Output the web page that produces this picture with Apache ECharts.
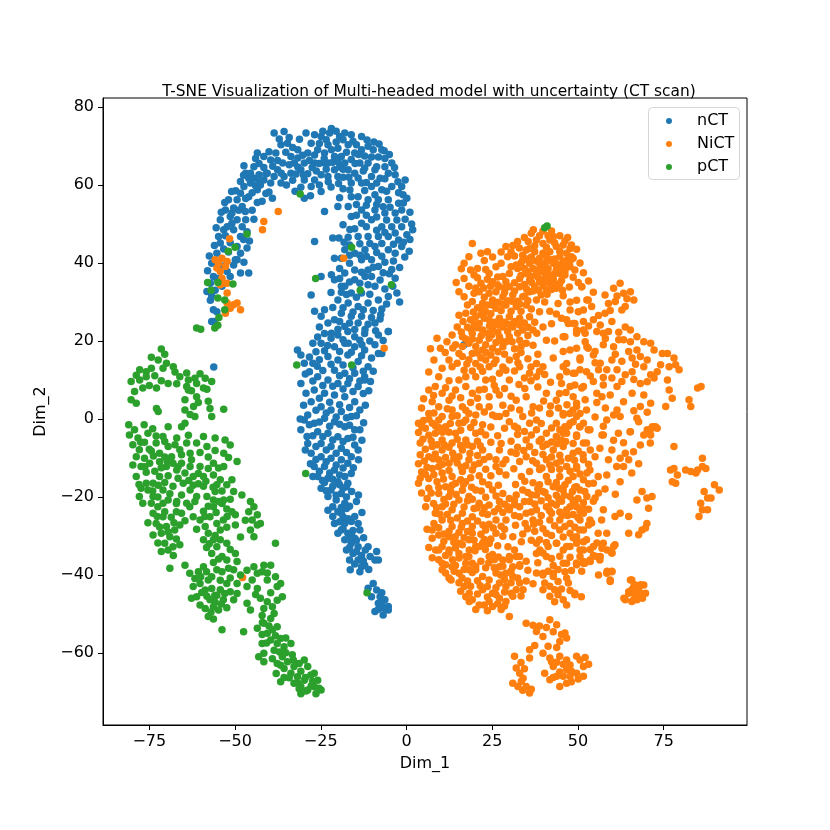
<!DOCTYPE html>
<html>
<head>
<meta charset="utf-8">
<script src="https://cdn.jsdelivr.net/npm/echarts@6/dist/echarts.min.js"></script>
<style>
html, body { margin: 0; padding: 0; background: #fff; }
#chart { width: 830px; height: 830px; }
</style>
</head>
<body>
<div id="chart"></div>
<script>
// 类别与颜色
const seriesNames = ['nCT', 'NiCT', 'pCT'];
const seriesColors = ['#1f77b4', '#ff7f0e', '#2ca02c'];
const xTicks = [-75, -50, -25, 0, 25, 50, 75];
const yTicks = [-60, -40, -20, 0, 20, 40, 60, 80];

// nCT：弧形上部
const nctArc = [
    [-56.8,25],[-58.2,32.7],[-57.2,34.8],[-56.3,36.5],[-56.8,39.9],[-55.3,42.5],[-54.3,45.1],[-54.8,46.8],[-53.3,48.5],[-54.3,51.1],
    [-52.3,49.3],[-51.4,51.9],[-52.8,53.6],[-50.4,54.1],[-49.4,56.2],[-51.9,56.2],[-48.4,57.9],[-47.4,59.6],[-45.5,60.5],[-44.5,61.7],
    [-43,62.6],[-41.6,61.3],[-43.5,58.8],[-46,57],[-47.9,54.5],[-49.4,51.1],[-46.9,51.1],[-50.4,48.5],[-48.4,46.8],[-49.4,44.2],
    [-46.5,43.8],[-49.9,40.8],[-48.4,37.4],[-46,37.4],[-52.3,37.8],[-53.8,34],[-51.4,36.5],[-49.4,40.8],[-56,25],[-56.2,13.3],
    [-48.4,60.9],[-46.9,63],[-44.5,64.7],[-43.5,68.2],[-40.6,63],[-39.6,66.4],[-38.1,68.2],[-38.6,73.3],[-35.7,73.7],[-36.6,70.3],
    [-34.7,70.7],[-33.7,67.3],[-31.7,69],[-32.7,65.6],[-30.8,63.9],[-29.8,65.6],[-28.8,68.2],[-27.8,70.7],[-29.3,73.3],[-26.8,72.9],
    [-24.9,72.4],[-25.9,69],[-23.9,68.2],[-22.9,70.3],[-21.9,69],[-21,67.3],[-20,69.4],[-19.5,72.4],[-21.9,74.5],[-18,73.3],
    [-16.1,72.9],[-17,70.3],[-19,67.3],[-18,65.6],[-15.1,68.2],[-13.1,72.4],[-13.1,69],[-11.2,69.9],[-9.7,69],[-7.2,69],
    [-13.6,65.6],[-11.2,65.6],[-9.2,63.9],[-6.3,64.7],[-4.3,65.6],[-5.3,63],[-7.7,61.7],[-10.2,62.2],[-15.1,63],[-17,63.9],
    [-21,63.9],[-22.9,62.2],[-24.9,62.6],[-26.8,61.3],[-27.8,59.6],[-29.8,61.3],[-33.7,63],[-35.7,62.2],[-37.6,63.9],[-39.6,60.5],
    [-36.6,60.5],[-41.6,67.3],[-31.7,66.9],[-23.9,65.6],[-26.8,65.6],[-22.9,65.6],[-20,62.2],[-24.9,58.3],
    [-45.5,63],[-43,65.5],[-41.6,64.5],[-40.1,68.5],[-37.6,66.3],[-37.1,71.8],[-34.2,72.2],[-33.2,69.6],[-35.2,68.4],[-31.2,71.7],
    [-30.3,67.6],[-28.3,66.3],[-26.8,67.7],[-25.4,70.6],[-24.4,73.8],[-23.4,71.6],[-22.4,73.3],[-20.5,71],[-20.5,73.8],[-18.5,71.6],
    [-17.5,68.4],[-16.1,66.5],[-14.6,70.3],[-15.6,71.2],[-12.2,67.4],[-10.2,67.2],[-8.2,67.2],[-6.3,66.8],[-8.7,64.7],[-12.6,63.6],
    [-14.1,61.8],[-11.7,60.6],[-8.7,60.5],[-6.3,61.6],[-3.3,62.6],[-2.3,58],[-5.8,58.4],[-9.2,57.5],[-12.2,58.6],[-16.1,60.5],
    [-18.5,62],[-19.5,64.6],[-23.4,64],[-26.3,63.6],[-28.8,62.9],[-31.7,64.6],[-34.2,65.2],[-36.1,65.6],[-38.6,62.2],[-33.2,61.2],
    [-42.6,60],[-44,59.8],[-45,58],[-46.9,56.5],[-48.9,53.5],[-50.9,52.8],[-47.9,49.3],[-50.9,50.2],[-52.8,47],[-51.4,45.2],
    [-53.3,43.6],[-51.9,42.8],[-50.4,39.5],[-48.4,42.5],[-47.4,40.2],[-53.3,39.2],[-55.3,36],[-55.8,33],[-57.2,30.4],[-56.3,28],
    [-55.3,27.5],[-44,66.8],[-46,61.7],[-47.4,64.9],[-25.4,60],[-22,59.5],[-30.8,59.4],[-18.5,59],[-12.2,64.3],[-40.1,58.2],
    [-42.1,55.8],[-39.1,56.6],
    [-45,53.5],[-43.5,55.5],[-41,57.8],[-44.5,51.2],[-46.5,48],[-45.8,45.6],[-47.5,46],[-47,53.2],[-49.8,58.5],[-51,58.3],
    [-53,55.5],[-54,53],[-55.5,49],[-56,44.5],[-57.5,41.8],[-58,38],[-56.8,31.5],[-47.5,62.5],[-43,60.8],[-41,62.8],
    [-39,64.8],[-36.5,63],[-35,60],[-32.2,62.8],[-30,62.5],[-27.5,64.5],[-25.5,65.5],[-24,66.8],[-21.5,65.8],[-20,66],
    [-18.5,64],[-16.8,62],[-15,65.5],[-14,67.8],[-11.5,71.5],[-9.5,71],[-8,70.5],[-6.5,68.8],[-5,67.8],[-3.5,64.5],
    [-29.8,56.6],[-32.5,58.4],[-28,57.2],[-19.5,56.7],[-16.5,58.7],[-22.8,60.8],[-19.8,60.4]
];

// nCT：右侧下行段
const nctRight = [
    [-13.1,60.5],[-10.2,59.6],[-7.2,58.8],[-4.3,59.6],[-1.4,59.6],[-0.4,61.3],[0.1,56.6],[-2.3,55.3],[-5.3,56.2],[-8.2,56.2],
    [-11.2,56.2],[-14.1,57],[-16.1,57],[-13.1,53.6],[-9.2,53.6],[-6.3,52.8],[-3.3,52.8],[-1.4,53.6],[-16.1,51.9],[-13.1,50.2],
    [-10.2,51.1],[-7.2,49.3],[-4.3,49.3],[-1.4,49.3],[0.1,47.2],[-2.3,45.9],[-5.3,46.8],[-8.2,46.8],[-11.2,46.8],[-14.1,46.8],
    [-9.2,44.2],[-12.1,43.4],[-15.1,42.5],[-13.1,40.8],[-10.2,40.8],[-7.2,41.7],[-5.3,43.4],[-3.3,42.5],[-1.4,44.2],[-8.2,39.1],
    [-11.2,38.2],[-15.1,38.2],[-18,37.4],[-18,34],[-15.1,35.7],[-12.1,36.5],[-10.2,36.5],[-9.2,34],[-13.1,32.3],[-16.1,32.3],
    [-19,34],[-21,35.7],[-20,30.5],[-17,29.7],[-14.1,28.8],[-11.2,29.7],[-8.2,30.5],[-5.3,31.4],[-13.1,26.3],[-16.1,26.3],
    [-19,27.1],[-21,25.4],[-22.9,24.6],[-24.9,26.3],[-21.9,22],[-18,23.7],[-15.1,22.9],[-12.1,22.9],[-9.2,24.6],[-5.3,22.4],
    [-2.8,32.3],[-18,43.4],[-21.5,46.4],[-26.8,45.5],[-23.9,53.2],[-20,54.5],[-17,54.5],[-27.8,31.8],[-24.9,36.5],[-21.9,37],
    [-26.8,27.6],[-21,41.2],[-19,41.2],[1.5,50],[1,46],[16.8,19],
    [-14.6,55],[-11.7,54.8],[-8.7,55],[-6.8,54.4],[-4.8,54.3],[-0.9,55.4],[-2.8,51],[-5.8,51],[-8.7,51.8],[-11.7,52.2],
    [-14.6,52.2],[-15.1,48.8],[-11.7,49.3],[-8.7,48.4],[-6.3,47.8],[-3.3,47.7],[-0.4,51.2],[-0.9,45.3],[-3.8,44.8],[-7.2,45],
    [-10.7,45],[-13.6,44.9],[-16.6,44.6],[-17,46.6],[-16.6,42],[-13.6,42],[-11.7,41.7],[-8.7,42.7],[-6.3,40.2],[-3.8,40.5],
    [-9.7,38.9],[-13.1,37.6],[-16.6,39.9],[-19.5,38.6],[-19.5,36],[-16.6,35.1],[-13.6,34.8],[-11.2,34.4],[-7.7,35.6],[-6.3,33.3],
    [-10.7,32],[-14.6,31.2],[-17.5,31.9],[-19,32.5],[-22,32.4],[-21.5,28.6],[-18.5,28.5],[-15.6,27.4],[-12.6,28],[-9.7,27.8],
    [-7.2,28.2],[-10.2,26],[-7.7,25.6],[-11.2,24.3],[-14.1,24.6],[-16.6,24.6],[-19.5,25],[-23.9,28],[-25.4,23.6],[-20,23],
    [-3.3,36.1],[-4.3,38.3],
    [-2.5,60.8],[-1,57.5],[1,53],[1.8,48.5],[0.8,43],[-0.5,41.5],[-2,38.8],[-5,37.2],[-6.8,37.5],[-4,34],
    [-2,30],[-5.8,29.5],[-7.5,26.8],[-9,22.6],[-16.5,48.6],[-18.5,49.8],[-19.7,46.4],[-18.2,45.3]
];

// nCT：下部主干
const nctStem = [
    [-23.9,21.9],[-20,21.5],[-17.1,22.4],[-15.1,21.1],[-12.2,21.9],[-8.2,21.5],[-5.3,22.4],[-24.9,19.4],[-21,18.5],[-18,19.4],
    [-15.1,18.5],[-12.2,17.7],[-9.2,19],[-7.2,16.8],[-27.3,19.4],[-30.8,16.4],[-31.8,17.7],[-29.8,14.3],[-27.3,14.3],[-22.9,16],
    [-20,15.1],[-17.1,16.4],[-14.1,14.7],[-11.2,13.4],[-8.2,16.8],[-21,12.5],[-18,11.7],[-15.1,11.7],[-12.2,10.8],
    [-25.9,10.8],[-22.9,10],[-20,9.1],[-17.1,9.1],[-14.1,8.3],[-12.2,10],[-30.8,9.1],[-26.9,7.4],[-23.9,6.6],[-21,6.1],
    [-18,5.7],[-15.1,4.4],[-13.6,2.3],[-27.8,4.4],[-24.9,3.1],[-22,2.3],[-19,1.9],[-16.1,0.6],[-28.8,1],[-29.8,-0.3],
    [-26.9,-1.1],[-23.9,0.2],[-21,-0.7],[-18,-2],[-15.1,-2.8],[-13.6,-2.8],[-30.8,-2.8],[-25.9,-3.3],[-22.9,-3.7],[-20,-4.6],
    [-17.1,-5],[-28.8,-6.3],[-24.9,-6.3],[-22,-7.1],[-19,-7.5],[-15.1,-6.7],[-14.1,-8],[-27.8,-8.8],[-24.9,-9.7],[-22,-10.1],
    [-19,-10.5],[-17.1,-11.4],[-26.9,-12.2],[-23.9,-12.2],[-21,-13.1],[-18,-14.8],[-25.9,-14.8],[-22.9,-15.2],[-20,-16.1],[-17.1,-16.5],
    [-27.3,-14.8],[-24.9,-17.8],[-22,-18.2],[-19,-19.1],[-17.5,-17.4],[-22.9,-19.9],[-20.5,-20.8],[-18,-21.6],[-14.6,-21.2],[-22.9,-23.4],
    [-20,-23.8],[-18.5,-25.1],[-21,-26.8],[-18,-26.8],[-16.1,-26.3],[-14.1,-26.8],[-13.6,-28.5],[-19,-28.5],[-17.1,-29.3],[-20,-29.3],
    [-18,-31],[-16.1,-31.9],[-15.1,-30.6],[-17.5,-33.6],[-15.6,-34.5],[-14.1,-32.8],[-16.6,-36.2],[-14.1,-36.2],[-13.1,-37.9],[-12.2,-37.5],
    [-13.6,-39.2],[-11.2,-32.8],[-8.7,-34],[-9.2,-36.2],[-8.2,-36.2],[-16.4,-38.7],[-9.7,-42.2],[-8.7,-43.9],[-10.2,-45.6],[-7.7,-45.6],
    [-6.3,-46.4],[-8.2,-47.3],[-5.3,-48.1],[-9.2,-49.4],[-6.8,-50.3],[-5.3,-49],[-11.2,-43.4],
    [-25.9,21],[-22,20.7],[-18.5,20.3],[-13.6,20.2],[-10.7,20],[-6.8,20.1],[-26.4,17.2],[-23.9,17.5],[-19.5,17.3],[-16.1,17.1],
    [-13.1,16.2],[-10.2,15.6],[-28.3,15.9],[-25.4,15.2],[-22,14],[-18.5,13.8],[-15.6,13.1],[-12.6,12.2],[-9.7,12.2],[-28.3,12.1],
    [-24.4,12.4],[-19.5,11.1],[-16.6,10.3],[-13.6,9.7],[-27.3,9.7],[-24.4,8.6],[-21.5,8.4],[-18.5,7.7],[-15.6,7],[-12.6,6.5],
    [-29.3,6.6],[-25.4,5.3],[-22.4,4.3],[-19.5,3.6],[-16.6,2.9],[-26.4,2.2],[-23.4,1.5],[-20.5,0.5],[-17.5,0.3],[-14.6,0.8],
    [-28.3,-1.5],[-25.4,-0.8],[-22.4,-1.9],[-19.5,-1.4],[-16.6,-1.6],[-27.3,-4.3],[-24.4,-4.6],[-21.5,-5.4],[-18.5,-5.8],[-15.6,-4.7],
    [-26.4,-7.1],[-23.4,-8],[-20.5,-8.8],[-17.5,-8.6],[-16.1,-9.7],[-26.4,-10.4],[-23.4,-11],[-20.5,-11.8],[-18.5,-12.6],[-25.4,-13.4],
    [-22.4,-13.9],[-19.5,-14.4],[-16.1,-14],[-23.9,-16.3],[-21.5,-17.3],[-18.5,-17.8],[-23.4,-18.4],[-20.5,-19.6],[-17.5,-20],[-21.5,-22.5],
    [-19,-22.7],[-16.6,-22.4],[-21.5,-25],[-19.5,-26.4],[-17,-25.6],[-15.1,-25],[-18.5,-28.2],[-15.6,-28.6],[-16.1,-29.6],[-16.6,-30.8],
    [-14.6,-31.1],[-16.6,-33],[-14.6,-34],[-13.1,-35],[-15.1,-37.2],[-12.6,-36.4],[-7.2,-44.6],[-7.2,-47.5],[-8.2,-48.8],[-6.3,-48.6],
    [-13,19],[-17,19.4],[-23,18.8],[-26,13.5],[-29.5,11.5],[-30,3.5],[-31,0],[-29,-4.5],[-29.5,-8],[-28,-11.5],
    [-24.5,-15.8],[-21.5,-15.5],[-19.5,-16.9],[-16,-18.6],[-14,-19.5],[-15.5,-12.5],[-14,-10.5],[-13,-5.5],[-12.5,-1],[-12,3.5],
    [-11,7.2],[-10.5,9.6],[-19,-24.2],[-17.5,-23],[-13,-24],[-12.5,-30.5],[-12,-33.6],[-10.6,-35.3],[-11,-38.6]
];

// NiCT：上部
const nictTop = [
    [36.4,47.6],[37.9,45.9],[39.8,45],[41.8,45.9],[43.7,44.2],[45.7,44.6],[47.7,43.7],[34.9,43.3],[37.4,42.9],[39.8,42.5],
    [41.8,42.9],[44.7,41.6],[46.7,40.7],[48.6,41.2],[33.9,40.7],[35.9,39.9],[38.8,39.9],[40.8,40.3],[42.8,39.9],[45.2,39],
    [47.7,39],[34.9,37.3],[37.9,37.3],[39.8,37.8],[41.8,36.9],[44.7,37.3],[35.9,35.6],[38.8,35.2],[41.8,34.8],[43.7,33.5],
    [40.8,33.1],[48.1,41.6],[51.1,33.9],[52.6,30.5],[51.6,27.9],
    [35.5,45.5],[38.8,47],[40.8,44],[42.8,46.8],[44.7,43],[46.7,42.5],[33.9,42],[36.4,41.5],[38.8,41.2],[40.8,41.8],
    [43.2,41],[45.7,40.2],[47.7,40.5],[32.4,38.6],[34.4,38.6],[36.9,38.6],[39.3,38.8],[41.3,38.5],[43.7,38.3],[46.2,37.8],
    [33.4,36.8],[36.4,36.5],[38.3,36.4],[40.3,36.1],[42.8,35.8],[45.2,35.5],[34.4,34.5],[37.4,34],[39.8,34.2],[42.3,33.2],
    [36.9,32.8],[39.3,31.8],[44.7,34.7],[48.6,36.3],[49.1,38.2],[50.1,35],[31.5,41.8],[30.5,39],[37.4,44.4],[41.3,47],
    [43.2,45.2],[46.2,45.6],[48.1,44.6],[35.9,43.7],[32.9,43.8],
    [34.4,46.5],[37,48.5],[39.8,48.2],[42.3,48.2],[44.7,47],[47,46.5],[49.6,43.5],[50.6,40],[51.6,37.5],[32.4,45.5],
    [31,44.5],[33.4,40],[35,41],[37.8,40.5],[39.8,39.5],[42,40.8],[44,39.6],[46.5,38.8],[35.4,37.8],[38,38.2],
    [40.8,37.2],[43.2,37.2],[36.5,35],[39.3,35.6],[41.2,35.5],[43.4,34.5],[35,33.3],[38.5,33],[41,32],[34.5,31.5],
    [45.5,33],[47.5,33.8]
];

// NiCT：左上斜带
const nictBand = [
    [19.2,45],[21.7,42.5],[23.6,42.9],[29,44.2],[29.5,41.6],[32,39.5],[26.1,39],[24.1,37.3],[20.7,38.6],[16.8,39.9],
    [16.8,36],[19.7,36.9],[21.7,34.8],[25.1,35.2],[28.1,36.5],[30,37.3],[33,36],[27.1,33.9],[30,33.9],[33,33.9],
    [24.1,32.2],[21.2,32.6],[15.3,32.6],[16.8,31.3],[19.2,30.1],[22.2,29.6],[25.1,30.5],[28.1,31.3],[31,31.8],[33.9,31.3],
    [35.9,32.6],[37.9,30.5],[34.9,29.2],[32,28.8],[29,29.2],[26.1,28.4],[23.1,27.5],[20.2,26.2],[17.3,27.1],[15.3,26.6],
    [21.2,24.5],[24.1,25.4],[27.1,25.8],[30,26.2],[33,25.8],[35.9,26.2],[38.8,27.5],[39.8,23.6],[36.9,22.8],[33.9,22.8],
    [31,23.6],[28.1,23.6],[25.1,23.2],[22.2,22.8],[19.2,21.9],[16.3,21.1],[13.3,21.5],[8.9,20.7],[9.9,18.1],[8,15.1],
    [12.4,15.1],[15.3,16.8],[18.2,19.4],[21.2,20.2],[24.1,20.7],[27.1,21.1],[30,21.1],[33,20.2],[34.9,19.4],[28.1,18.5],
    [25.1,18.1],[22.2,17.7],[19.2,16.8],[20.2,14.2],[23.1,15.1],[26.1,15.1],[30,15.1],[33,13.4],[37.9,14.2],[39.8,13.4],
    [35.9,11.7],[37.9,10.8],[24.1,13.4],[27.1,11.7],[16.3,16],[13.3,13.4],[17.3,10.8],[20.2,10.8],[23.1,10],[26.1,7.4],
    [30,10],[32,16],[36.9,18.9],[40.8,20.2],[45.7,21.1],[47.7,17.7],[46.7,14.2],[48.6,11.7],[50.6,15.1],[52.6,18.5],
    [49.6,22.8],[46.7,25.4],[48.6,24.5],[51.6,22.8],[45.2,25.8],[44.2,29.6],[47.7,27.9],
    [18.2,41.6],[22.7,40.6],[25.1,41.5],[27.6,42.8],[30.5,42.8],[27.6,39.9],[23.1,38.3],[18.7,38.2],[20.7,36.2],[23.6,35.8],
    [26.6,36.4],[29,35.2],[31.5,34.9],[26.1,32.6],[28.6,32.4],[31.5,32.8],[22.7,31.2],[19.7,32.2],[17.8,29.2],[20.7,28.5],
    [23.6,29.2],[26.6,29.9],[29.5,30.3],[32.4,30.2],[35.4,30.3],[27.6,27.8],[30.5,27.6],[33.4,27.6],[36.4,28.2],[24.6,27],
    [21.7,26.8],[18.7,25.4],[22.7,25.8],[25.6,24.8],[28.6,24.8],[31.5,25],[34.4,24.6],[37.4,24.8],[29.5,22.4],[32.4,22],
    [35.4,21.4],[26.6,22.2],[23.6,22],[20.7,23.4],[17.8,23.5],[14.8,23.6],[11.8,19.8],[14.3,19],[17.3,20.5],[20.2,18.6],
    [23.1,19],[26.1,19.6],[29,19.8],[31.5,18],[33.4,17],[38.3,16.6],[35.4,15.4],[28.6,16.6],[24.6,16.4],[21.7,15.7],
    [18.2,15.2],[14.8,14.3],[11.3,17],[10.4,13],[7,18],[6.5,12],[9.4,10.8],[12.4,9.8],[16.8,12.5],[19.2,12.3],
    [22.2,12.2],[25.1,10.2],[28.1,13.3],[31.5,12.3],[34.4,10.5],[40.3,11.4],[42.8,15.6],[43.2,20],[42.3,24.4],[41.8,27.6],
    [43.7,26.9],[40.3,30],[45.7,31.6],[47.7,30],[49.6,30.4],[53.1,35.4],[54.5,32.5],
    [14.5,35],[16,38.5],[18.2,34],[20.2,33.6],[22.5,33.6],[24.5,34],[26.5,34.4],[28.8,33.6],[30.8,30.2],[33,29.5],
    [28,29.5],[25,29.2],[22,28],[19.5,27.4],[16.5,25],[19.8,24.5],[24.2,23.8],[26.9,24.1],[29.8,24.2],[33,24.1],
    [35.5,23.5],[38,22],[24.8,21.5],[21.8,21.3],[18.8,23],[16,22.3],[13.5,18.2],[16.3,18.6],[19.2,20.5],[27.5,20.1],
    [30.8,19.8],[33.4,18.5],[26.7,17.2],[23.2,17],[20.7,16.9],[17.6,14.1],[21.5,13.3],[25.5,14.2],[29,12.5],[32.5,14.4],
    [36.3,13.3],[38.8,12.2]
];

// NiCT：右侧散布
const nictEast = [
    [46.2,36.9],[51.1,33.9],[57.9,31.8],[60.4,33.5],[62.3,34.8],[63.3,32.2],[65.3,32.6],[66.3,30.5],[63.8,28.8],[62.8,27.9],
    [60.9,30.1],[53,30.5],[54,28.8],[57.9,27.1],[50.1,27.5],[54.5,25.4],[47.2,24.5],[49.1,24.5],[51.6,25],[56.5,24.1],
    [59.9,25],[57.4,22],[55.5,22.4],[58.9,22.4],[49.6,22],[52.1,22],[46.2,21.1],[65.3,22.8],[61.9,20.3],[63.3,20.3],
    [52.1,19.8],[57.4,19],[60.4,18.5],[49.6,18.1],[53,18.1],[55,17.3],[45.7,17.3],[50.6,15.6],[54.5,16.4],[65.3,19.8],
    [69.2,19.8],[71.2,19.4],[67.2,17.7],[68.2,16],[72.2,17.7],[70.2,15.1],[64.8,17.3],[65.8,15.6],[59.9,15.1],[56.5,14.3],
    [56,12.6],[58.4,12.6],[50.6,12.6],[45.7,13.4],[46.7,12.1],[49.1,11.7],[52.5,12.1],[61.4,12.6],[65.8,12.1],[69.2,13.4],
    [71.2,11.3],[73.1,12.1],[76.1,16.8],[78,15.6],[76.6,13.4],[79.5,12.6],[76.1,10],[76.6,7.4],[77.5,5.3],[75.6,3.2],
    [68.2,9.1],[69.2,6.1],[71.2,4],[68.2,3.2],[65.8,6.6],[62.8,9.6],[61.4,8.3],[57.4,8.7],[55.5,6.6],[57,5.7],
    [59.4,6.1],[54.5,9.6],[51.1,7.9],[49.1,8.7],[45.2,9.1],[48.6,5.7],[52.1,4.9],[49.6,3.2],[52.5,2.3],[47.6,1.4],
    [46.2,-2],[48.6,-0.7],[50.6,-2],[53.5,-2.8],[45.7,-3.7],[49.6,-4.1],[57,-4.1],[61.4,2.3],[60.4,1],[62.3,0.6],
    [58.4,-0.3],[67.2,0.2],[65.3,-3.3],[70.2,-2.8],[71.7,-2],[73.1,-2.4],[71.2,-4.1],[82.4,4.9],[82.9,3.2],[84.9,7.9],
    [85.9,8.3],
    [58.9,29.6],[61.4,31.5],[64.3,30.8],[59.4,27.8],[56,26.5],[53.1,23.8],[58,20.6],[61.9,22.2],[63.8,23.6],[67.2,21.1],
    [60.9,16.6],[62.8,14.8],[66.8,14],[55,14.4],[57.4,10.6],[59.9,10.5],[63.8,11.3],[66.3,10.1],[70.2,9.5],[72.2,10.5],
    [53.6,11],[55.5,4.2],[58,2.8],[63.3,4.4],[66.3,2.1],[70.2,1.7],[55,0.5],[57.4,-1.9],[60.4,-5.5],[63.3,-6.1],
    [68.2,-6.7],[62.3,-10.1],[67.7,-11.5],[58.4,-14.4],[60.9,-19.3],[57.9,-18],[74.1,13.9],[74.6,16.8],[78.5,13.9],
    [50.5,-2],[53,-2.8],[57.4,-4.1],[61.8,-3.7],[65.2,-3.3],[67.7,-0.7],[71.1,-2.8],[72.6,-2],[71.1,-6.2],[69.2,-4.1],
    [52.5,-6.2],[56.4,-7.5],[59.9,-8],[63.8,-8.8],[66.2,-8.4],[64.8,-10.5],[58.9,-10.5],[63.3,-12.2],[65.7,-13.9],[61.3,-12.2],
    [55,-9.7],[51.5,-9.2],[49.6,-12.2],[53.5,-13.1],[55.9,-14.8],[54.5,-16.5],[62.3,-16.1],[49.6,-17.4],[52,-18.6],[55,-20.3],
    [57.4,-23.3],[51.5,-22.9],[49.1,-21.6],[53.5,-25.9],[56.9,-25.9],[50.5,-28.5],[49.6,-30.2],[52.5,-31],[55.9,-29.3],[58.4,-29.3],
    [57.4,-31.9],[60.8,-32.3],[59.9,-34.4],[55.4,-35.3],[56.4,-36.2],[49.6,-37],[52,-37],[53.5,-36.2],[58.4,-39.6],[59.9,-39.2],
    [59.4,-41.7],[49.1,-44.7],[51,-45.6],[68.7,-18.6],[67.2,-20.8],[70.1,-20.3],[71.6,-19.9],[70.6,-22.9],[60.8,-25],[62.3,-24.2],
    [64.8,-25],[64.8,-29.3],[67.7,-29.7],[70.1,-26.8],[69.7,-28],[68.7,-28.5],[77,-13.1],[78,-12.7],[79,-14.4],[77.5,-16.1],
    [78.5,-16.5],[81.4,-13.1],[82.9,-13.5],[84.9,-13.1],[86.3,-12.2],[86.3,-10.1],[87.3,-12.7],[84.4,-13.9],[78,-7.1],[89.8,-16.9],
    [91.2,-18.2],[86.8,-18.6],[87.8,-20.3],[88.8,-20.3],[85.8,-21.6],[86.3,-23.3],[85.3,-25],[87.8,-23.3],[65.7,-41.3],[66.7,-42.6],
    [69.2,-42.6],[64.8,-44.3],[66.2,-44.7],[68.2,-44.7],[69.7,-44.7],[63.8,-46.4],[65.7,-46.8],[67.2,-46.4],[65.7,-43.8],[67.7,-43.6]
];

// NiCT：左下主体
const nictWest = [
    [6.5,7.4],[8.4,8.3],[10.4,6.6],[7.5,4.4],[9.4,3.1],[12.4,4.8],[14.3,7.4],[15.3,10],[17.3,8.3],[19.2,6.6],
    [21.2,7.4],[6.5,1.4],[10.4,0.6],[13.3,2.3],[16.3,3.1],[18.2,1.4],[21.2,3.1],[24.1,5.7],[27.1,6.1],[24.1,3.1],
    [26.1,0.6],[29,1.4],[32,4.8],[34.9,5.7],[33,2.3],[36.9,3.1],[40.8,6.6],[43.7,4.8],[41.8,1.4],[45.7,1.4],
    [49.6,4],[51.6,8.3],[47.7,8.3],[44.7,10.8],[50.6,1.4],
    [3.5,-1.1],[5.5,-2.4],[7.5,-1.1],[9.4,-0.3],[11.4,-2],[13.3,0.6],[15.3,-1.1],[17.3,-0.3],[20.2,1],[22.2,-1.5],
    [25.1,1],[27.1,0.6],[30,-0.7],[33.9,0.6],[35.9,-1.1],[37.9,-0.3],[41.8,1.4],[43.7,-1.1],[45.7,1],[47.7,-1.1],
    [49.6,0.6],[51.6,-1.1],[37.9,-2.8],[40.8,-3.7],[43.7,-4.5],[46.7,-3.7],[49.6,-4.5],[51.6,-6.2],[8.4,-3.7],[10.4,-5.4],
    [14.3,-3.7],[17.3,-5.4],[20.2,-3.7],[23.1,-4.1],[7.5,-7.1],[10.4,-8],[13.3,-6.2],[16.3,-8],[19.2,-7.1],[22.2,-8],
    [24.1,-9.7],[27.1,-8],[29,-10.5],[34.9,-5.4],[35.9,-7.1],[39.8,-7.1],[42.8,-8],[45.7,-7.1],[48.6,-8.8],[51.6,-10.5],
    [4,-6.2],[4,-9.2],[6.5,-9.7],[9.4,-10.5],[12.4,-11.4],[15.3,-9.7],[18.2,-10.5],[21.2,-11.4],[26.1,-10.5],[33,-10.9],
    [34.9,-9.7],[37.9,-11.4],[40.8,-10.5],[43.7,-11.4],[46.7,-12.2],[49.6,-12.7],[52.6,-13.9],[7.5,-12.7],[10.4,-13.9],[13.3,-14.8],
    [16.3,-13.5],[19.2,-13.1],[27.1,-13.5],[29,-14.4],[35.9,-13.5],[40.8,-14.8],[44.7,-14.8],[48.6,-14.8],[51.6,-15.6],[4,-15.2],
    [3.5,-16.5],[8.9,-16.1],[11.4,-17.4],[14.3,-16.5],[17.3,-16.1],[20.2,-18.2],[22.2,-16.1],[25.1,-18.2],[28.1,-19.1],[30,-20.4],
    [32,-19.5],[33.9,-18.2],[35.9,-21.2],[37.9,-19.5],[39.8,-18.6],[42.8,-17.4],[45.7,-18.2],[47.7,-19.9],[50.6,-18.2],[52.6,-19.9],
    [6,-20.4],[9.4,-19.1],[12.4,-19.9],[15.3,-20.8],[18.2,-19.9],[21.2,-21.6],[24.1,-22.1],[27.1,-21.2],[30,-23.3],[33,-22.5],
    [34.9,-24.2],[37.9,-23.3],[40.8,-22.5],[43.7,-22.1],[46.7,-23.3],[49.6,-22.5],[51.6,-24.2],[10.4,-22.5],[13.3,-23.3],[16.3,-24.2],
    [19.2,-25.1],[22.2,-24.2],[26.1,-25.9],[29,-25.9],[36.9,-25.9],[41.8,-25.9],[44.7,-25.9],[47.7,-26.8],[50.6,-25.9],[8,-26.8],
    [10.4,-25.9],[13.3,-27.6],[16.3,-26.8],[19.2,-27.6],[23.1,-28.5],[26.1,-29.3],[40.8,-29.3],[44.7,-28.5],[47.7,-29.3],[49.6,-31],
    [51.6,-28.5],[7.5,-30.6],[9.4,-29.8],[12.4,-30.2],[15.3,-31.9],[18.2,-31],[21.2,-32.7],[24.1,-31.9],[31,-30.2],[38.8,-31],
    [43.7,-31.9],[46.7,-32.7],[50.6,-33.6],[9.4,-33.6],[12.4,-33.6],[15.3,-34.5],[18.2,-35.3],[24.1,-35.3],[28.1,-36.2],[30,-35.3],
    [33,-35.3],[37.9,-34.5],[40.8,-35.3],[45.7,-37],[49.6,-37],[51.6,-36.6],[10.4,-37],[13.3,-37.9],[17.3,-37],[20.2,-38.7],
    [27.1,-37.9],[29,-39.6],[31,-37.9],[33,-37.4],[39.8,-39.6],[42.8,-39.6],[10.4,-38.7],[15.3,-39.6],
    [5,5.2],[7.9,6],[11.4,8],[13.3,5.9],[15.8,5.4],[18.7,4.2],[20.7,5.3],[22.7,7.6],[25.6,8.6],[28.6,7.8],
    [30.5,5.8],[28.1,3.5],[30.5,2.8],[4.4,2.8],[8,1.5],[11.9,2.6],[14.8,0.8],[17.3,2.2],[19.7,-0.9],[22.7,1.8],
    [5,-0.4],[6.5,-4.2],[9.4,-2.2],[12.4,-3.4],[15.8,-2.9],[18.7,-2.2],[21.7,-3.2],[24.6,-2.1],[26.6,-4.3],[28.6,-2.4],
    [31.5,-1.9],[32.4,-4],[3.5,-3.5],[5.5,-7.8],[8.9,-6.6],[12.4,-7.3],[14.8,-5.2],[17.8,-6.6],[20.7,-5.7],[24.6,-6],
    [27.6,-6.3],[30.5,-5.7],[30.5,-8.5],[32.4,-7.3],[26.1,-12.2],[28.1,-11.5],[3.5,-11.5],[6,-12.4],[8.4,-9],[11.4,-9.9],
    [14.8,-11.3],[17.3,-12],[20.7,-9.4],[23.1,-12.9],[24.6,-14.6],[4.4,-13.6],[6.5,-15.3],[9.4,-12.3],[12.4,-13.2],[15.8,-15.6],
    [18.7,-15.1],[21.2,-14.6],[6.5,-17.8],[9.4,-17.6],[12.9,-18.6],[16.3,-18.3],[19.2,-20.6],[23.1,-20.1],[26.1,-19.8],[28.6,-21.9],
    [31.5,-22],[4.4,-19],[7.9,-21.7],[10.9,-20.7],[13.8,-21.9],[16.8,-22.6],[19.7,-23],[22.7,-22.8],[25.6,-23.8],[28.1,-24],
    [31.5,-24.8],[8.4,-24.2],[11.9,-24.5],[14.8,-25.4],[17.8,-26.2],[20.7,-26.2],[24.1,-27],[27.6,-27.5],[9.4,-27.9],[12.4,-28.8],
    [15.3,-29.1],[17.8,-28.9],[21.7,-29.6],[24.6,-30.8],[28.1,-30.1],[6,-28.3],[10.9,-31.4],[13.8,-31.6],[16.8,-30.5],[19.7,-31.1],
    [22.7,-30.9],[6.5,-33],[7.5,-35.6],[11.4,-35],[14.3,-37.6],[16.8,-38.6],[19.2,-39.4],[21.7,-36.5],[23.1,-38.2],[25.6,-38.2],
    [12.4,-40.8],
    [32.4,-2.4],[34.4,-3.2],[36.4,-4.1],[39.3,-1.2],[42.3,-2.3],[44.7,-2.8],[47.2,-1.9],[48.6,-6.3],[45.2,-5.5],[42.3,-5.9],
    [39.3,-5.2],[37.4,-8.6],[39.8,-9.1],[42.3,-9.8],[44.7,-9.3],[47.2,-10.1],[50.1,-8.2],[53.6,-8],[53.1,-11.6],[50.6,-14.1],
    [47.2,-15.8],[44.7,-12.9],[42.3,-13],[38.8,-13],[36.9,-16.4],[38.8,-16.9],[41.3,-16.1],[43.7,-16.3],[46.2,-16.9],[49.1,-17.5],
    [53.1,-16.6],[35.4,-18.9],[41.3,-20.2],[43.7,-19.6],[48.6,-21],[51.6,-21.5],[31.5,-21],[34.4,-21.2],[37.4,-21.8],[39.3,-21],
    [42.3,-21.6],[45.2,-21.1],[47.7,-22.5],[33,-25.1],[36.4,-23.9],[39.3,-24.8],[42.3,-24.2],[44.7,-23.9],[48.6,-24.5],[50.6,-23.5],
    [38.8,-26.5],[43.2,-27.4],[46.2,-27.6],[49.1,-27.8],[53.1,-27.2],[42.3,-29.9],[45.7,-30.3],[48.6,-30.5],[51.6,-31.5],[39.8,-28.2],
    [37.4,-28.8],[33.9,-29.5],[36.4,-31.1],[40.8,-31.7],[53.1,-23.2],[54.5,-21.1],[56,-19],[54,-26.7],[55.5,-31.8],[53.6,-33.5]
];

// NiCT：左下主体补充
const nictWest2 = [
    [4.5,-2],[6.5,0],[8.5,-1.8],[10.5,-3.4],[12.8,-1.2],[16.5,-0.9],[4.8,-5.2],[7.2,-5.6],[11,-6.6],[13.5,-8.8],
    [15.8,-6.8],[18.5,-8.9],[21.5,-6.9],[5.2,-10.8],[7.8,-10.2],[10.5,-11.6],[13.8,-10.2],[16,-12.4],[19.8,-11.8],[22.6,-10.4],
    [5.5,-14.2],[8,-14.3],[10.8,-15.4],[13.3,-17],[16.6,-16.8],[19,-17.5],[21.8,-18.5],[24,-16.9],[26.8,-17],[5.6,-22.5],
    [7.2,-19],[8.8,-22.8],[11.4,-21.8],[14.5,-19.4],[17.8,-21],[20.6,-22.8],[23.6,-24.5],[26.8,-23],[29.5,-22.5],[9.8,-24.5],
    [12.9,-26],[16,-27.8],[19.2,-29.3],[22.3,-27.2],[25.3,-28],[28.6,-28.3],[7.5,-28.5],[10.9,-29.5],[14.2,-30.2],[20,-33.8],
    [23,-33.5],[26.6,-32.5],[29.6,-32.8],[31.5,-33.6],[33.5,-31.5],[11.4,-39.5],[13,-41.3],[16.2,-40.8],[18.7,-42.9],[21.5,-42.8],
    [27.5,-40],[30.5,-39],[24,-36.9],[26.8,-35.4],
    [31.3,-12.8],[33.5,-14.8],[31.8,-16.8],[34.5,-16],[36.5,-19.5],[38.3,-17.9],[40.4,-18.9],[44.5,-17.8],[46,-19.6],[48.4,-18.6],
    [50,-20.4],[41.7,-23.5],[44.5,-20.6],[47,-24.8],[50,-25.3],[45.4,-24.8],[31.8,-27.3],[34.6,-26.8],[37.1,-27],[35.3,-28.2],
    [32,-8.9],[34.2,-8.1],[36.8,-10.7],[39.5,-12.6],[41.8,-11.8],[45,-10.8],[47.7,-13.4],[49,-10.6],[38.7,-5.7],[41,-6.5],
    [43.8,-6.4],[46.4,-5.8],[36.5,1.5],[38.8,2.8],[42,3.3],[44.3,2.8],[46.8,3.6],[48.5,2.2],[40,4.6],[34.5,7.8],
    [38.3,8.2],[42,9.4],[44.6,6.5],[46.5,6.8],[32.8,8.8],[36.3,9.8]
];

// NiCT：底部与尾部
const nictSouth = [
    [8.5,-33.6],[10.4,-32.7],[12.4,-34.4],[14.3,-33.1],[16.3,-32.3],[18.3,-33.6],[20.2,-32.7],[22.2,-31.9],[24.1,-31.9],[9.4,-36.1],
    [11.4,-37.4],[13.4,-36.1],[15.3,-35.7],[17.3,-35.3],[19.2,-37],[13.9,-39.1],[18.3,-38.7],[20.2,-37.8],[25.1,-34.8],
    [25.6,-36.1],[22.2,-40.4],[24.1,-41.3],[26.1,-39.5],[28.1,-37.8],[30,-36.1],[32,-35.3],[33,-37.8],[27.1,-42.1],[29,-43],
    [31,-40.4],[33,-42.1],[34,-43.8],[16.8,-43],[18.3,-44.7],[19.2,-46.4],[22.2,-43.8],[25.1,-44.7],[27.1,-46],[29,-46.8],
    [31,-45.5],[32,-43.8],[22.7,-47.7],[25.1,-48.1],[27.6,-48.9],[30,-50.7],[18.3,-46.8],
    [15.3,-42],[17.8,-41.6],[20.7,-41.5],[23.6,-43],[26.1,-43.3],[28.6,-41.2],[30.5,-42],[32.4,-40.8],[34.9,-41.6],[35.4,-38.8],
    [34.9,-36.5],[20.7,-44.9],[23.6,-45.7],[26.1,-45],[28.6,-44.4],[30.5,-44.7],[33.4,-45.4],[21.2,-47.7],[23.6,-49.2],[26.6,-47.4],
    [28.6,-48],[20.2,-48.9],[24.1,-46.8],[17.3,-45.6],[15.8,-44.2],
    [37.9,-31.9],[39.8,-34.4],[41.3,-32.7],[43.8,-31.9],[45.7,-33.6],[47.7,-32.7],[49.6,-31.9],[51.6,-33.6],[54.5,-32.7],[56.5,-35.3],
    [58.5,-33.6],[60.4,-32.7],[59.9,-34.4],[38.9,-33.6],[46.7,-37],[49.6,-37.4],[51.6,-37],[53.6,-36.6],[39.8,-40],[41.3,-39.1],
    [42.8,-40.4],[44.2,-41.7],[40.3,-42.1],[39.8,-43.8],[46.7,-40.8],[47.2,-42.1],[44.2,-45.1],[45.7,-46.4],[46.7,-47.7],[49.1,-45.1],
    [56,-40],[58.5,-39.1],[59.9,-39.1],[59.4,-41.3],[65.3,-41.3],[66.3,-43],[68.3,-42.5],[63.4,-46],[64.8,-44.7],[66.3,-46.4],
    [67.3,-45.1],[68.8,-46],
    [42.3,-35.8],[44.7,-35.2],[47.7,-35.5],[50.6,-35.3],[54.5,-35],[57,-33.2],[42.8,-37.6],[44.2,-38.6],[46.2,-39.2],[48.1,-38.9],
    [51.1,-39.1],[41.8,-42.9],[43.2,-43.8],[45.2,-43.6],[47.7,-44],[43.2,-46.9],[41.8,-45.5],[38.3,-36.9],[37.9,-39.5],[36.9,-42.3],
    [34.9,-52.4],[37.9,-54.5],[39.8,-55.8],[41.8,-51.5],[43.8,-52.8],[46.2,-54.9],[46.7,-56.2],[44.7,-57.1],[39.8,-60.1],[41.8,-61.3],
    [42.8,-63.5],[44.7,-60.9],[46.7,-61.8],[47.7,-63.1],[49.6,-60.9],[50.6,-61.8],[51.6,-63.5],[49.6,-65.2],[47.7,-66],[45.7,-66],
    [43.8,-66],[41.8,-66.9],[40.3,-65.2],[44.7,-68.6],[46.7,-67.8],[51.6,-66],[35.9,-59.2],[35.9,-61.3],[31.5,-60.9],[32,-63.9],
    [33,-65.2],[34,-66.5],[34.9,-68.6],[35.9,-70.3],[31,-67.8],[32.5,-68.6],
    [36.9,-52.9],[38.8,-53.1],[40.8,-53.5],[42.8,-54.6],[45.2,-55.3],[43.8,-58.6],[41.3,-58.3],[42.3,-62.3],[43.8,-62.4],[45.7,-62.9],
    [48.1,-64.7],[46.7,-64.3],[44.7,-64.9],[42.8,-66.3],[48.1,-67.4],[50.1,-66.7],[52.1,-61.2],[53.1,-62.9],[33.4,-62.5],[34.4,-64.1],
    [33.5,-67.3],[33.9,-69.6],[36.4,-69.3],[37.4,-58.1]
];

// NiCT：混入其它簇的点
const nictStray = [
    [-54.8,39.9],[-55.8,40.8],[-53.8,41.2],[-52.8,39.1],[-55.3,38.7],[-54.3,37.8],[-52.3,40.4],[-53.8,36.1],[-53.3,34.8],[-52.3,34.8],
    [-54.3,34.4],[-52.3,32.3],[-52.3,29.7],[-50.4,29.3],[-49.4,29.7],[-48.4,28],[-51.4,28.4],[-52.8,27.1],[-37.4,53.2],[-41.6,50.6],
    [-42,48.5],[-51.6,46.2],[-18.3,41.2],[-6.5,18.1],[-47.8,-40.7]
];

// pCT：上部与混入点
const pctTop = [
    [-61.2,23.3],[-60,23],[-55.9,23.3],[-55,24],[-54.7,26],[-53,28],[-53,30.5],[-55,31],[-57,33],[-58,35],
    [-55,35],[-50.6,34.6],[-52,43],[-50,44],[-46.5,47.4],[-31,57.7],[-26.5,36],[-16,44],[-13.5,33],[-4.4,34.4],
    [-32,13.8],[-16,13.8],[-29.4,-14],[-11.5,-44.6],[41,49.5],[40.3,49],
    [-71.5,17.9],[-72.4,15.1],[-70,14.3],[-77.8,12.6],[-75.9,12.1],[-74.4,13],[-71,13],[-68,13.4],[-80.3,9.6],[-77.8,10],
    [-75.9,10.8],[-76.9,7.9],[-72.9,7.9],[-69.5,9.1],[-66.1,10.8],[-63.6,10],[-61.7,10.4],[-61.2,9.1],[-58.7,10.4],[-56.8,9.6],
    [-59.2,7.9],[-63.6,7.4],[-61.2,5.7],[-64.6,4.9],[-80.3,4.9],[-78.8,4],[-72.9,2.7],[-72.4,1.9],[-64.6,2.3],[-62.1,3.2],
    [-61.7,0.6],[-57.3,2.7],[-56.8,0.6],[-53.3,2.5],[-64.6,-1.1],[-69.5,-2],[-65.6,-2],
    [-74.4,15.8],[-70.5,16.6],[-78.8,11.2],[-73.4,11.1],[-71.5,9.8],[-67.5,12],[-64.1,11.8],[-60.2,11.6],[-79.3,7],[-75,8.6],
    [-67,9],[-64.1,8.3],[-58.2,7.6],[-62.7,7.2],[-60.7,4.2],[-63.1,1.1],[-57.8,4.5]
];

// pCT：中部主体
const pctMid = [
    [-80.8,-4.1],[-79.3,-2.8],[-78.3,-4.9],[-75.4,-3.7],[-77.9,-7.9],[-78.8,-9.7],[-76.4,-10.1],[-79.8,-11.8],[-77.4,-12.2],[-78.8,-14.8],
    [-74.9,-11.4],[-73,-6.2],[-72,-8.8],[-71,-4.5],[-69.5,-7.1],[-68.5,-9.7],[-67,-4.9],[-66.1,-7.9],[-65.6,-11.4],[-64.1,-6.2],
    [-63.1,-8.8],[-61.2,-6.2],[-59.2,-4.5],[-58.2,-7.1],[-55.8,-4.9],[-52.9,-5.4],[-51.4,-6.7],[-53.3,-8.8],[-56.3,-11.4],[-60.2,-12.2],
    [-63.1,-12.2],[-62.2,-14.8],[-59.2,-14.8],[-56.3,-14.4],[-54.3,-15.6],[-50.9,-15.6],[-49.4,-10.9],[-53.3,-12.2],[-67,-13.1],[-70,-12.2],
    [-72,-14.8],[-73.9,-16.5],[-75.4,-18.2],[-71,-18.2],[-68.1,-17.3],[-65.1,-16.5],[-63.1,-18.2],[-59.2,-17.3],[-61.2,-19.9],[-58.2,-19.9],
    [-56.3,-20.8],[-53.3,-20.8],[-50.4,-18.6],[-48,-19.5],[-71,-21.6],[-67,-21.2],[-64.1,-21.6],[-73.9,-19.9],[-75.9,-16.5],[-76.9,-21.6],
    [-77.9,-19.9],
    [-73.9,-24.2],[-72.5,-22.5],[-71,-25.1],[-73,-26.8],[-70,-27.6],[-71.5,-29.3],[-73.9,-29.8],[-69,-30.2],[-67.6,-28.5],[-66.1,-27.2],
    [-70.5,-31.9],[-71.5,-34],[-68.1,-32.8],[-66.1,-32.3],[-69.5,-20.8],[-67.1,-21.7],[-65.6,-24.2],[-63.2,-22.5],[-61.7,-21.2],
    [-60.2,-25.9],[-58.7,-27.6],[-57.3,-25.1],[-56.3,-22.5],[-54.8,-21.2],[-57.8,-29.3],[-56.3,-31],[-59.2,-31],[-55.3,-32.8],[-54.3,-28.5],
    [-53.4,-25.9],[-56.8,-34.5],[-53.8,-35.3],[-49.9,-24.6],[-49.9,-27.2],[-50.9,-23.8],[-52.4,-31.9],[-49.9,-34.5],[-49.4,-36.6],[-53.8,-21.7],
    [-45.5,-21.2],[-44.5,-22.5],[-45,-25.9],[-44.5,-30.2],[-43.5,-27.2],[-42.6,-26.8],[-38.2,-31.9],
    [-81,-1.5],[-79.8,-6.6],[-76.4,-6],[-74.4,-8.2],[-75.9,-13.7],[-73.4,-13.4],[-77.4,-17.8],[-72,-11],[-70.5,-5.8],[-70.5,-9.8],
    [-68.1,-11.4],[-67.5,-6.6],[-65.6,-9.2],[-63.6,-4.2],[-62.7,-10.5],[-60.2,-8.6],[-57.8,-9.8],[-55.8,-8.1],[-54.8,-12.6],[-51.9,-9.9],
    [-55.3,-16.9],[-57.8,-12.7],[-60.7,-16.6],[-64.6,-13.9],[-66.6,-15.2],[-69.5,-14.6],[-70.5,-16.3],[-72.5,-20],[-74.4,-21.6],[-69,-19.2],
    [-65.6,-19.5],[-62.2,-17],[-57.8,-22.4],[-55.8,-18.6],[-52.4,-16.9],[-51.4,-20.6],[-52.4,-23.1],[-75.4,-26.6],[-72,-27.7],[-72.5,-31.8],
    [-69.5,-33.6],[-67.1,-30.8],[-68.6,-25.2],[-67.1,-23.8],[-64.6,-26.1],[-62.2,-25.1],[-61.2,-28.3],[-59.2,-23.7],[-58.3,-33],[-55.3,-26.8],
    [-55.8,-29.9],[-54.3,-31],[-52.4,-27.8],[-51.4,-33.5],[-48.4,-30.3],[-47,-26],[-46,-23.8],[-43.5,-24.6],[-45.5,-28.5],
    [-76.5,-1.5],[-74,-2.5],[-73,-4.4],[-77.5,-6],[-75,-7.8],[-73.8,-9.5],[-76.3,-12.3],[-78,-16.8],[-74,-18.5],[-72.4,-17],
    [-69.8,-10.8],[-71.5,-12.5],[-66.6,-12.3],[-63.5,-15.8],[-60.7,-14],[-58.5,-16],[-56.4,-17.5],[-53.8,-18.5],[-67.8,-26.6],[-70.5,-23.8],
    [-72.7,-25],[-69.5,-29],[-68,-35],[-58.8,-25],[-57.5,-32],[-55.5,-24],[-52.3,-25]
];

// pCT：下部尾巴
const pctTail = [
    [-64.6,-37.5],[-63.2,-39.6],[-61.7,-40.9],[-60.2,-42.2],[-62.2,-43],[-61.2,-45.6],[-59.2,-37.9],[-58.3,-39.2],[-56.8,-40.5],[-55.3,-38.7],
    [-53.8,-39.2],[-51.9,-38.3],[-50.4,-38.7],[-58.7,-43.9],[-57.3,-46.4],[-55.3,-45.2],[-56.3,-48.2],[-54.8,-49],[-57.8,-50.7],[-53.4,-46.4],
    [-52.4,-42.2],[-49.4,-42.2],[-50.4,-46.4],[-46.5,-43],[-46.5,-47.3],[-45.5,-49],[-43.5,-39.6],[-44.5,-37.9],[-42.1,-39.2],[-41.6,-37.5],
    [-39.6,-37.5],[-43.5,-43.5],[-42.6,-46],[-40.6,-41.3],[-38.2,-40.5],[-37.7,-43],[-36.7,-42.2],[-39.1,-48.2],[-38.6,-49.9],[-36.2,-45.6],
    [-41.6,-48.6],[-62.7,-46],[-60.2,-47.7],[-53.8,-54.1],[-69,-38.3],[-47.5,-54.6],
    [-43.5,-53.7],[-41.6,-52.4],[-40.6,-55],[-39.1,-54.1],[-37.7,-53.3],[-39.6,-56.7],[-42.1,-57.6],[-37.7,-57.6],[-35.7,-58.4],[-33.7,-57.6],
    [-36.2,-61],[-33.3,-60.5],[-41.6,-60.1],[-43.1,-61],[-37.7,-62.7],[-35.7,-64],[-32.8,-63.5],[-31.3,-62.7],[-29.8,-61.8],[-28.8,-63.5],
    [-33.7,-65.2],[-31.8,-66.1],[-29.8,-67],[-27.9,-65.7],[-26.9,-65.2],[-32.8,-67.8],[-30.8,-68.7],[-28.8,-69.5],[-26.9,-68.7],[-24.9,-69.5],
    [-26.4,-70.5],[-30.8,-70.5],[-36.7,-67.4],[-41.6,-62.3],
    [-56.3,-36.8],[-54.8,-35.9],[-52.4,-36.2],[-60.7,-39.2],[-57.8,-41.3],[-54.3,-41.4],[-51.4,-40.8],[-59.7,-44.5],[-56.8,-43.5],[-54.3,-43.8],
    [-51.4,-44.3],[-49.4,-44.8],[-55.8,-47],[-52.4,-48.4],[-58.7,-48.6],[-56.3,-51.3],[-48.4,-40],[-46.5,-38.8],[-45,-41.3],[-44,-45],
    [-40.6,-39.5],[-39.6,-44.6],[-37.7,-46.5],[-40.6,-46.9],[-39.6,-51.2],[-42.1,-50.4],[-40.1,-53.1],[-42.1,-55.3],[-38.2,-55.6],[-36.7,-56.3],
    [-38.6,-59.3],[-35.2,-60],[-34.7,-62.3],[-39.1,-61.5],[-36.7,-63.2],[-34.2,-66.4],[-30.8,-64.7],[-27.4,-67.3],[-31.3,-69.2],[-29.3,-69.8],
    [-25.9,-67],[-35.2,-56.2],
    [-60,-40.5],[-58.2,-45.5],[-55.9,-45.3],[-53,-44.8],[-57,-49.5],[-54,-47.5],[-42,-52.2],[-40.8,-57.5],[-37,-59.8],[-33,-61.8],
    [-31.7,-67.8],[-27.8,-68.5],[-29.5,-66.3],[-25.5,-69.1],[-38,-65.3],[-35.7,-66.3]
];

const nctPoints = nctArc.concat(nctRight, nctStem);
const nictPoints = nictTop.concat(nictBand, nictEast, nictWest, nictWest2, nictSouth, nictStray);
const pctPoints = pctTop.concat(pctMid, pctTail);

const chart = echarts.init(document.getElementById('chart'));

const fontFamily = 'DejaVu Sans';
const minusFmt = v => String(v).replace('-', '\u2212');

const option = {
    animation: false,
    backgroundColor: '#fff',
    title: {
        text: 'T-SNE Visualization of Multi-headed model with uncertainty (CT scan)',
        left: 424,
        top: 79,
        textAlign: 'center',
        textStyle: { fontFamily: fontFamily, fontSize: 15.4, fontWeight: 'normal', color: '#000' }
    },
    grid: {
        left: 103, top: 98, width: 644, height: 627,
        show: true, borderColor: '#000', borderWidth: 1,
        outerBoundsMode: 'none'
    },
    legend: {
        orient: 'vertical',
        left: 666,
        top: 113,
        z: 10,
        itemWidth: 46,
        itemHeight: 6,
        itemGap: 7,
        padding: 0,
        icon: 'circle',
        textStyle: { fontFamily: fontFamily, fontSize: 16, color: '#000', lineHeight: 16 },
        data: seriesNames
    },
    graphic: [{
        type: 'rect',
        left: 648, top: 107,
        shape: { width: 91, height: 72, r: 4 },
        style: { fill: '#fff', stroke: '#d6d6d6', lineWidth: 1 },
        z: 3
    }],
    xAxis: {
        type: 'value',
        min: -88.5, max: 99.3,
        name: 'Dim_1',
        nameLocation: 'middle',
        nameGap: 31,
        nameTextStyle: { fontFamily: fontFamily, fontSize: 16, color: '#000' },
        splitLine: { show: false },
        axisLine: { show: true, onZero: false, lineStyle: { color: '#000' } },
        axisTick: { show: true, length: 5, customValues: xTicks, lineStyle: { color: '#000' } },
        axisLabel: { customValues: xTicks, margin: 9, fontFamily: fontFamily, fontSize: 16, color: '#000', formatter: minusFmt }
    },
    yAxis: {
        type: 'value',
        min: -78.5, max: 82.3,
        name: 'Dim_2',
        nameLocation: 'middle',
        nameGap: 48,
        nameTextStyle: { fontFamily: fontFamily, fontSize: 16, color: '#000' },
        splitLine: { show: false },
        axisLine: { show: true, onZero: false, lineStyle: { color: '#000' } },
        axisTick: { show: true, length: 5, customValues: yTicks, lineStyle: { color: '#000' } },
        axisLabel: { customValues: yTicks, margin: 9, fontFamily: fontFamily, fontSize: 16, color: '#000', formatter: minusFmt }
    },
    series: [nctPoints, nictPoints, pctPoints].map((pts, i) => ({
        name: seriesNames[i],
        type: 'scatter',
        data: pts,
        symbolSize: 7.5,
        itemStyle: { color: seriesColors[i], opacity: 1 },
        emphasis: { disabled: true }
    })),
    color: seriesColors
};

chart.setOption(option);
</script>
</body>
</html>
